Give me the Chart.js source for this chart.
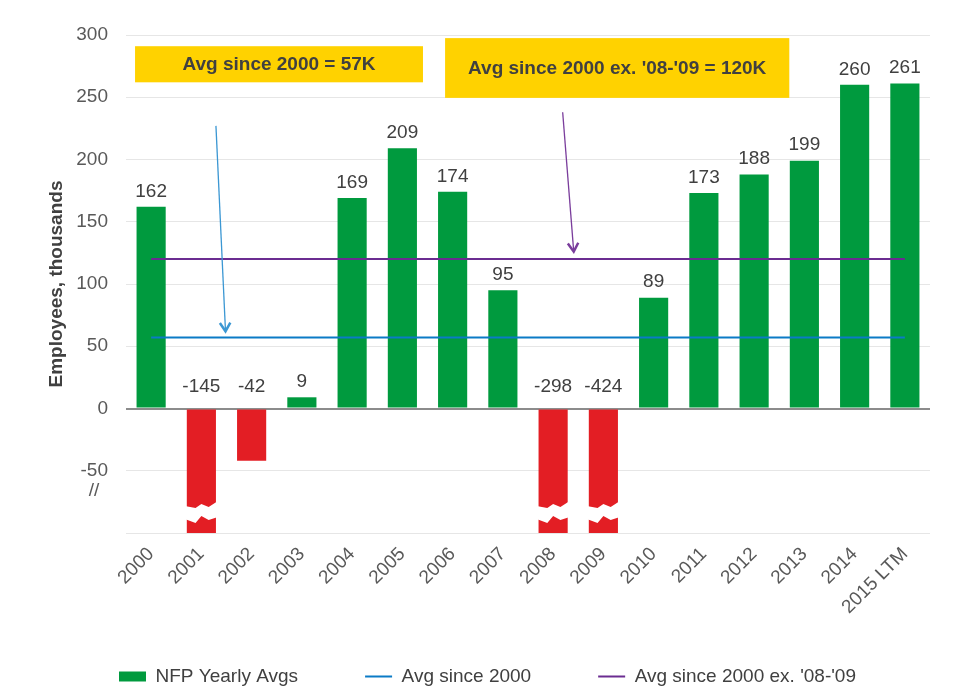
<!DOCTYPE html>
<html>
<head>
<meta charset="utf-8">
<script src="https://cdn.jsdelivr.net/npm/chart.js@4.4.1/dist/chart.umd.min.js"></script>
<style>
  html, body { margin: 0; padding: 0; background: #fff; }
</style>
</head>
<body>
<canvas id="chart" width="960" height="700"></canvas>
<script>
const years = ['2000', '2001', '2002', '2003', '2004', '2005', '2006', '2007',
  '2008', '2009', '2010', '2011', '2012', '2013', '2014', '2015 LTM'];
const nfpAvgs = [162, -145, -42, 9, 169, 209, 174, 95, -298, -424, 89, 173, 188, 199, 260, 261];
const avgSince2000 = [57, 57, 57, 57, 57, 57, 57, 57, 57, 57, 57, 57, 57, 57, 57, 57];
const avgExCrisis = [120, 120, 120, 120, 120, 120, 120, 120, 120, 120, 120, 120, 120, 120, 120, 120];
const yMin = -100;
const yMax = 300;
const yStep = 50;

// callout boxes, x in category units, y in thousands
const callouts = [
  { text: 'Avg since 2000 = 57K', x0: -0.32, x1: 5.41, y0: 291, y1: 262 },
  { text: "Avg since 2000 ex. '08-'09 = 120K", x0: 5.85, x1: 12.7, y0: 297.5, y1: 249.5 }
];
const arrows = [
  { color: '#3b97d3', from: [1.29, 227], to: [1.48, 62] },
  { color: '#7a3d9c', from: [8.19, 238], to: [8.41, 126] }
];

const FONT = '"Liberation Sans", Arial, sans-serif';
const GREEN = '#009a3e';
const RED = '#e31e24';

function xAt (scale, i) {
  const a = scale.getPixelForValue(0);
  const b = scale.getPixelForValue(1);
  return a + (b - a) * i;
}

const decorations = {
  id: 'decorations',
  afterDatasetsDraw (chart) {
    const ctx = chart.ctx;
    const xs = chart.scales.x;
    const ys = chart.scales.y;
    const bars = chart.getDatasetMeta(0).data;

    // axis break on the bars that run off the bottom
    ctx.save();
    ctx.fillStyle = '#fff';
    const yb = ys.getPixelForValue(-80);
    bars.forEach((bar, i) => {
      if (nfpAvgs[i] >= yMin) return;
      const l = bar.x - bar.width / 2;
      const w = bar.width;
      ctx.beginPath();
      ctx.moveTo(l - 2, yb - 2);
      ctx.lineTo(l + w * 0.3, yb);
      ctx.lineTo(l + w * 0.5, yb - 4);
      ctx.lineTo(l + w * 0.75, yb - 1);
      ctx.lineTo(l + w + 2, yb - 7);
      ctx.lineTo(l + w + 2, yb + 9);
      ctx.lineTo(l + w * 0.75, yb + 12);
      ctx.lineTo(l + w * 0.5, yb + 8);
      ctx.lineTo(l + w * 0.3, yb + 15);
      ctx.lineTo(l - 2, yb + 11);
      ctx.closePath();
      ctx.fill();
    });
    ctx.restore();

    // value labels
    ctx.save();
    ctx.font = '19px ' + FONT;
    ctx.fillStyle = '#404040';
    ctx.textAlign = 'center';
    ctx.textBaseline = 'bottom';
    const zero = ys.getPixelForValue(0);
    bars.forEach((bar, i) => {
      const v = nfpAvgs[i];
      const y = v >= 0 ? bar.y - 6 : zero - 12;
      ctx.fillText(String(v), bar.x, y);
    });
    ctx.restore();

    // "//" break mark on the axis
    ctx.save();
    ctx.font = '19px ' + FONT;
    ctx.fillStyle = '#595959';
    ctx.textAlign = 'center';
    ctx.textBaseline = 'middle';
    ctx.fillText('//', ys.right - 32, ys.getPixelForValue(-66));
    ctx.restore();

    // callouts
    ctx.save();
    callouts.forEach(c => {
      const l = xAt(xs, c.x0), r = xAt(xs, c.x1);
      const t = ys.getPixelForValue(c.y0), b = ys.getPixelForValue(c.y1);
      ctx.fillStyle = '#ffd200';
      ctx.fillRect(l, t, r - l, b - t);
      ctx.font = 'bold 19px ' + FONT;
      ctx.fillStyle = '#404040';
      ctx.textAlign = 'center';
      ctx.textBaseline = 'middle';
      ctx.fillText(c.text, (l + r) / 2, (t + b) / 2 + 1);
    });
    arrows.forEach(a => {
      const x0 = xAt(xs, a.from[0]), y0 = ys.getPixelForValue(a.from[1]);
      const x1 = xAt(xs, a.to[0]), y1 = ys.getPixelForValue(a.to[1]);
      const ang = Math.atan2(y1 - y0, x1 - x0);
      ctx.strokeStyle = a.color;
      ctx.lineWidth = 1.3;
      ctx.beginPath();
      ctx.moveTo(x0, y0);
      ctx.lineTo(x1, y1);
      ctx.stroke();
      ctx.lineWidth = 2.5;
      ctx.beginPath();
      ctx.moveTo(x1 - 10 * Math.cos(ang - 0.55), y1 - 10 * Math.sin(ang - 0.55));
      ctx.lineTo(x1, y1);
      ctx.lineTo(x1 - 10 * Math.cos(ang + 0.55), y1 - 10 * Math.sin(ang + 0.55));
      ctx.stroke();
    });
    ctx.restore();
  }
};

new Chart(document.getElementById('chart'), {
  type: 'bar',
  data: {
    labels: years,
    datasets: [
      {
        label: 'NFP Yearly Avgs',
        data: nfpAvgs,
        backgroundColor: nfpAvgs.map(v => v < 0 ? RED : GREEN),
        barPercentage: 0.58,
        categoryPercentage: 1,
        pointStyle: 'rect',
        order: 2
      },
      {
        type: 'line',
        label: 'Avg since 2000',
        data: avgSince2000,
        borderColor: '#0b7bc6',
        backgroundColor: '#0b7bc6',
        borderWidth: 2,
        pointRadius: 0,
        pointStyle: 'line',
        order: 1
      },
      {
        type: 'line',
        label: "Avg since 2000 ex. '08-'09",
        data: avgExCrisis,
        borderColor: '#6b2c91',
        backgroundColor: '#6b2c91',
        borderWidth: 2,
        pointRadius: 0,
        pointStyle: 'line',
        order: 0
      }
    ]
  },
  options: {
    responsive: false,
    animation: false,
    layout: { padding: { left: 45, right: 30, top: 35, bottom: 4 } },
    plugins: {
      tooltip: { enabled: false },
      legend: {
        position: 'bottom',
        labels: {
          usePointStyle: true,
          pointStyleWidth: 27,
          boxHeight: 10,
          padding: 10,
          color: '#404040',
          font: { size: 19, family: FONT },
          sort: (a, b) => a.datasetIndex - b.datasetIndex,
          generateLabels: chart => {
            const items = Chart.defaults.plugins.legend.labels.generateLabels(chart);
            items.forEach(it => {
              if (it.datasetIndex < 2) it.text += '\u2003\u2003\u2003';
            });
            return items;
          }
        }
      }
    },
    scales: {
      x: {
        grid: { display: false },
        border: { display: false },
        ticks: {
          autoSkip: false,
          minRotation: 45,
          maxRotation: 45,
          padding: 2,
          color: '#595959',
          font: { size: 19, family: FONT }
        },
        afterFit: scale => { scale.height = 124; }
      },
      y: {
        min: yMin,
        max: yMax,
        border: { display: false },
        grid: {
          drawTicks: false,
          color: c => c.tick.value === 0 ? '#8c8c8c' : '#e6e6e6',
          lineWidth: c => c.tick.value === 0 ? 2 : 1
        },
        ticks: {
          stepSize: yStep,
          padding: 18,
          color: '#595959',
          font: { size: 19, family: FONT },
          callback: v => v === yMin ? '' : v
        },
        title: {
          display: true,
          text: 'Employees, thousands',
          color: '#404040',
          font: { size: 19, weight: 'bold', family: FONT },
          padding: { top: 0, bottom: 3 }
        },
        afterFit: scale => { scale.width = 81; }
      }
    }
  },
  plugins: [decorations]
});
</script>
</body>
</html>
